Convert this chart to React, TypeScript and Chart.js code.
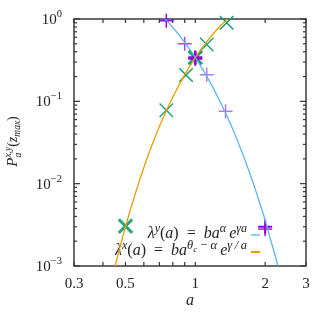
import React, { useEffect, useRef } from "react";
import { Chart, registerables } from "chart.js";
Chart.register(...registerables);

// Fitted curves (a, P)
const blueA = [0.73, 0.8, 0.9, 1.0, 1.1, 1.2, 1.35, 1.5, 1.7, 1.9, 2.0, 2.1, 2.25, 2.3];
const blueP = [1.05, 0.79, 0.52, 0.34, 0.22, 0.141, 0.072, 0.0365, 0.0145, 0.0057, 0.0036, 0.0022, 0.0011, 0.00086];
const orangeA = [0.44, 0.46, 0.5, 0.55, 0.6, 0.65, 0.7, 0.75, 0.8, 0.9, 1.0, 1.1, 1.2, 1.3, 1.4];
const orangeP = [0.00074, 0.00124, 0.003, 0.0074, 0.0157, 0.0292, 0.0493, 0.0769, 0.113, 0.21, 0.34, 0.496, 0.672, 0.858, 1.05];

// Markers
const purpleA = [0.75, 0.9, 1.0, 1.12, 1.35, 2.0];
const purpleP = [0.95, 0.5, 0.34, 0.21, 0.076, 0.0028];
const purpleA2 = [1.0, 2.0];
const purpleP2 = [0.33, 0.003];
const greenA = [0.5, 0.75, 0.912, 1.0, 1.12, 1.365];
const greenP = [0.00305, 0.078, 0.209, 0.34, 0.49, 0.9];

// Ticks
const xTicks = [0.3, 0.4, 0.5, 0.6, 0.7, 0.8, 0.9, 1, 2, 3];
const xLabels = ["0.3", "", "0.5", "", "", "", "", "1", "2", "3"];
const yExps = [-3, -2, -1, 0];

const SERIF = '"Liberation Serif", "DejaVu Serif", serif';

type Run = { t: string; s: number; it?: boolean; dy?: number; stack?: boolean };

function drawRuns(ctx: CanvasRenderingContext2D, runs: Run[], x: number, y: number, align: "left" | "right" | "center") {
  let cx = 0, prevStart = 0, prevW = 0;
  const items: { r: Run; x: number }[] = [];
  for (const r of runs) {
    ctx.font = `${r.it ? "italic " : ""}${r.s}px ${SERIF}`;
    const w = ctx.measureText(r.t).width;
    if (r.stack) {
      items.push({ r, x: prevStart });
      prevW = Math.max(prevW, w);
      cx = prevStart + prevW;
    } else {
      items.push({ r, x: cx });
      prevStart = cx;
      prevW = w;
      cx += w;
    }
  }
  const total = cx;
  const x0 = align === "left" ? x : align === "right" ? x - total : x - total / 2;
  ctx.textAlign = "left";
  ctx.textBaseline = "alphabetic";
  for (const { r, x: rx } of items) {
    ctx.font = `${r.it ? "italic " : ""}${r.s}px ${SERIF}`;
    ctx.fillText(r.t, x0 + rx, y + (r.dy || 0));
  }
  return total;
}

const decor = {
  id: "decor",
  beforeDatasetsDraw(chart: any) {
    const { ctx, chartArea: ca, scales } = chart;
    const xs = scales.x, ys = scales.y;
    ctx.save();
    ctx.strokeStyle = "#333";
    ctx.lineWidth = 1.2;
    const seg = (x1: number, y1: number, x2: number, y2: number) => {
      ctx.beginPath(); ctx.moveTo(x1, y1); ctx.lineTo(x2, y2); ctx.stroke();
    };
    for (const v of xTicks) {
      const px = xs.getPixelForValue(v);
      seg(px, ca.bottom, px, ca.bottom - 4);
      seg(px, ca.top, px, ca.top + 4);
    }
    for (const e of yExps) {
      for (let k = 1; k <= 9; k++) {
        const v = k * Math.pow(10, e);
        if (v > 1.0001) break;
        const py = ys.getPixelForValue(v);
        const len = k === 1 ? 6 : 3;
        seg(ca.left, py, ca.left + len, py);
        seg(ca.right, py, ca.right - len, py);
      }
    }
    ctx.strokeStyle = "#3a3a3a";
    ctx.lineWidth = 1.5;
    ctx.strokeRect(ca.left, ca.top, ca.right - ca.left, ca.bottom - ca.top);

    ctx.fillStyle = "#222";
    // x tick labels
    xTicks.forEach((v, i) => {
      if (!xLabels[i]) return;
      drawRuns(ctx, [{ t: xLabels[i], s: 15 }], xs.getPixelForValue(v), ca.bottom + 22, "center");
    });
    // y tick labels
    for (const e of yExps) {
      const py = ys.getPixelForValue(Math.pow(10, e));
      drawRuns(ctx, [
        { t: "10", s: 15 },
        { t: e === 0 ? "0" : "\u2212" + Math.abs(e), s: 10.5, dy: -7 },
      ], ca.left - 12, py + 5, "right");
    }
    // x title
    drawRuns(ctx, [{ t: "a", s: 16, it: true }], (ca.left + ca.right) / 2, 305, "center");
    // y title
    ctx.save();
    ctx.translate(17, 141.5);
    ctx.rotate(-Math.PI / 2);
    drawRuns(ctx, [
      { t: "P", s: 15, it: true },
      { t: "x,y", s: 9.5, it: true, dy: -6 },
      { t: "a", s: 9.5, it: true, dy: 4, stack: true },
      { t: "(", s: 14 },
      { t: "z", s: 14, it: true },
      { t: "max", s: 9.5, it: true, dy: 3 },
      { t: ")", s: 14 },
    ], 0, 0, "center");
    ctx.restore();

    // legend
    const rx = 247;
    drawRuns(ctx, [
      { t: "\u03bb", s: 16, it: true },
      { t: "y", s: 12, it: true, dy: -6.5 },
      { t: "(", s: 16 },
      { t: "a", s: 16, it: true },
      { t: ")\u2002=\u2002", s: 16 },
      { t: "ba", s: 16, it: true },
      { t: "\u03b1", s: 12, it: true, dy: -6.5 },
      { t: "\u2009e", s: 16, it: true },
      { t: "\u03b3a", s: 12, it: true, dy: -6.5 },
    ], rx, 238, "right");
    drawRuns(ctx, [
      { t: "\u03bb", s: 16, it: true },
      { t: "x", s: 12, it: true, dy: -6.5 },
      { t: "(", s: 16 },
      { t: "a", s: 16, it: true },
      { t: ")\u2002=\u2002", s: 16 },
      { t: "ba", s: 16, it: true },
      { t: "\u03b8", s: 12.5, it: true, dy: -6.5 },
      { t: "c", s: 9, it: true, dy: -3.5 },
      { t: " \u2212 ", s: 12.5, dy: -6.5 },
      { t: "\u03b1", s: 12.5, it: true, dy: -6.5 },
      { t: "\u2009e", s: 16, it: true },
      { t: "\u03b3\u2009/\u2009a", s: 12.5, it: true, dy: -6.5 },
    ], rx, 255, "right");
    ctx.lineWidth = 1.3;
    ctx.strokeStyle = "#56b4e9";
    seg(251, 235, 260, 235);
    ctx.lineWidth = 2;
    ctx.strokeStyle = "#e69f00";
    seg(251, 252, 260, 252);
    ctx.restore();
  },
};

const pts = (a: number[], p: number[]) => a.map((x, i) => ({ x, y: p[i] }));

export default function App() {
  const ref = useRef<HTMLCanvasElement>(null);
  useEffect(() => {
    const chart = new Chart(ref.current!, {
      type: "scatter",
      data: {
        datasets: [
          {
            data: pts(blueA, blueP), showLine: true, borderColor: "#56b4e9", borderWidth: 1.3,
            pointRadius: 0, cubicInterpolationMode: "monotone",
          },
          {
            data: pts(orangeA, orangeP), showLine: true, borderColor: "#e69f00", borderWidth: 1.3,
            pointRadius: 0, cubicInterpolationMode: "monotone",
          },
          {
            data: pts(purpleA2, purpleP2), showLine: false, pointStyle: "cross", pointRadius: 7,
            pointBorderWidth: 2, pointBorderColor: "#9400d3", pointBackgroundColor: "#9400d3", clip: false,
          },
          {
            data: pts(purpleA, purpleP), showLine: false, pointStyle: "cross", pointRadius: 7,
            pointBorderWidth: [1.5, 1.5, 2.5, 1.5, 1.5, 1.8],
            pointBorderColor: ["#9400d3", "#a44ddc", "#9400d3", "#b777e6", "#b777e6", "#a040d8"],
            pointBackgroundColor: "#9400d3", clip: false,
          },
          {
            data: pts(greenA, greenP), showLine: false, pointStyle: "crossRot", pointRadius: 9.5,
            pointBorderWidth: [3, 1.4, 1.5, 3, 1.4, 1.5],
            pointBorderColor: ["#2aa982", "#1aa27a", "#0f9e74", "#159f77", "#1aa27a", "#109e74"],
            pointBackgroundColor: "#009e73", clip: false,
          },
        ],
      } as any,
      options: {
        responsive: false,
        devicePixelRatio: 1,
        animation: false,
        layout: { padding: { top: 19, right: 29, left: 0, bottom: 0 } },
        plugins: { legend: { display: false }, tooltip: { enabled: false } },
        events: [],
        scales: {
          x: {
            type: "logarithmic", min: 0.3, max: 3,
            ticks: { display: false }, grid: { display: false }, border: { display: false },
            afterFit: (s: any) => { s.height = 50; },
          },
          y: {
            type: "logarithmic", min: 0.001, max: 1,
            ticks: { display: false }, grid: { display: false }, border: { display: false },
            afterFit: (s: any) => { s.width = 74; },
          },
        },
      } as any,
      plugins: [decor],
    });
    return () => chart.destroy();
  }, []);
  return (
    <div style={{ position: "fixed", left: 0, top: 0, width: 335, height: 316, background: "#fff" }}>
      <canvas ref={ref} width={335} height={316} />
    </div>
  );
}
